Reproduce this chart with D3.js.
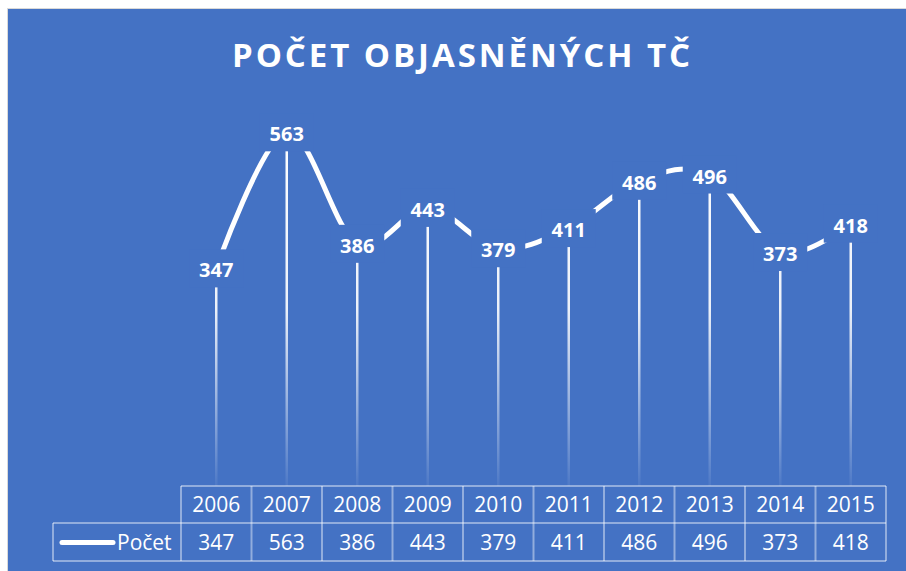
<!DOCTYPE html>
<html>
<head>
<meta charset="utf-8">
<script src="https://cdn.jsdelivr.net/npm/d3@7"></script>
<style>
  html, body { margin: 0; padding: 0; background: #fff; }
  svg { display: block; font-family: "Open Sans", sans-serif; }
</style>
</head>
<body>
<svg width="906" height="571"></svg>
<script>
const title = 'POČET OBJASNĚNÝCH TČ';
const seriesName = 'Počet';
const years = ['2006', '2007', '2008', '2009', '2010', '2011', '2012', '2013', '2014', '2015'];
const counts = [347, 563, 386, 443, 379, 411, 486, 496, 373, 418];

const svg = d3.select('svg'),
    width = +svg.attr('width'),
    height = +svg.attr('height');

const blue = '#4472C4';
const gridCol = 'rgba(255,255,255,0.42)';

// background frame
svg.append('rect').attr('x', 7).attr('y', 8).attr('width', width - 7).attr('height', height - 8)
    .attr('fill', '#d9d9d9');
svg.append('rect').attr('x', 8).attr('y', 9).attr('width', width - 8).attr('height', height - 9)
    .attr('fill', blue);

svg.append('text')
    .attr('x', 232).attr('y', 67)
    .attr('textLength', 458).attr('lengthAdjust', 'spacing')
    .attr('fill', '#fff').attr('font-size', 33).attr('font-weight', 700)
    .text(title);

const tableLeft = 181, tableRight = 886, tableTop = 486, rowH = 37;

const x = d3.scaleBand().domain(years).range([tableLeft, tableRight]);
const cx = d => x(d) + x.bandwidth() / 2;
const y = d3.scaleLinear().domain([0, 600]).range([487, 109]);

const data = years.map((yr, i) => ({year: yr, value: counts[i]}));

// gradient for drop lines
const defs = svg.append('defs');
const grad = defs.append('linearGradient').attr('id', 'dropGrad')
    .attr('gradientUnits', 'userSpaceOnUse')
    .attr('x1', 0).attr('x2', 0).attr('y1', 130).attr('y2', tableTop);
grad.append('stop').attr('offset', '0%').attr('stop-color', '#fff').attr('stop-opacity', 1);
grad.append('stop').attr('offset', '50%').attr('stop-color', '#fff').attr('stop-opacity', 0.9);
grad.append('stop').attr('offset', '100%').attr('stop-color', '#fff').attr('stop-opacity', 0.05);

const plot = svg.append('g');

plot.selectAll('.drop').data(data).enter().append('line')
    .attr('class', 'drop')
    .attr('x1', d => cx(d.year)).attr('x2', d => cx(d.year))
    .attr('y1', d => y(d.value)).attr('y2', tableTop)
    .attr('stroke', 'url(#dropGrad)').attr('stroke-width', 2.5);

const line = d3.line().x(d => cx(d.year)).y(d => y(d.value)).curve(d3.curveCatmullRom.alpha(0));
plot.append('path').datum(data)
    .attr('d', line)
    .attr('fill', 'none').attr('stroke', '#fff').attr('stroke-width', 5);

// data labels with blue boxes hiding the line
const labels = plot.selectAll('.lbl').data(data).enter().append('g')
    .attr('class', 'lbl')
    .attr('transform', d => `translate(${cx(d.year)},${y(d.value)})`);
labels.append('rect')
    .attr('x', -27).attr('y', -19).attr('width', 54).attr('height', 38)
    .attr('fill', blue);
labels.append('text')
    .attr('text-anchor', 'middle').attr('dy', '0.45em')
    .attr('fill', '#fff').attr('font-size', 20).attr('font-weight', 700)
    .text(d => d.value);

// data table
const table = svg.append('g');
const gl = (x1, y1, x2, y2) => table.append('line')
    .attr('x1', x1).attr('y1', y1).attr('x2', x2).attr('y2', y2)
    .attr('stroke', gridCol).attr('stroke-width', 2);

gl(tableLeft, tableTop, tableRight, tableTop);
gl(53, tableTop + rowH, tableRight, tableTop + rowH);
gl(53, tableTop + 2 * rowH + 1, tableRight, tableTop + 2 * rowH + 1);
gl(53, tableTop + rowH, 53, tableTop + 2 * rowH + 1);
years.forEach(yr => gl(x(yr), tableTop, x(yr), tableTop + 2 * rowH + 1));
gl(tableRight, tableTop, tableRight, tableTop + 2 * rowH + 1);

table.selectAll('.yr').data(years).enter().append('text')
    .attr('x', d => cx(d)).attr('y', tableTop + rowH / 2).attr('dy', '0.38em')
    .attr('text-anchor', 'middle').attr('fill', '#fff').attr('font-size', 21)
    .text(d => d);
table.selectAll('.val').data(data).enter().append('text')
    .attr('x', d => cx(d.year)).attr('y', tableTop + rowH * 1.5 + 1).attr('dy', '0.38em')
    .attr('text-anchor', 'middle').attr('fill', '#fff').attr('font-size', 21)
    .text(d => d.value);

// legend key
table.append('line')
    .attr('x1', 62).attr('x2', 113)
    .attr('y1', tableTop + rowH * 1.5 + 1).attr('y2', tableTop + rowH * 1.5 + 1)
    .attr('stroke', '#fff').attr('stroke-width', 5).attr('stroke-linecap', 'round');
table.append('text')
    .attr('x', 117).attr('y', tableTop + rowH * 1.5 + 1).attr('dy', '0.38em')
    .attr('fill', '#fff').attr('font-size', 21)
    .text(seriesName);
</script>
</body>
</html>
